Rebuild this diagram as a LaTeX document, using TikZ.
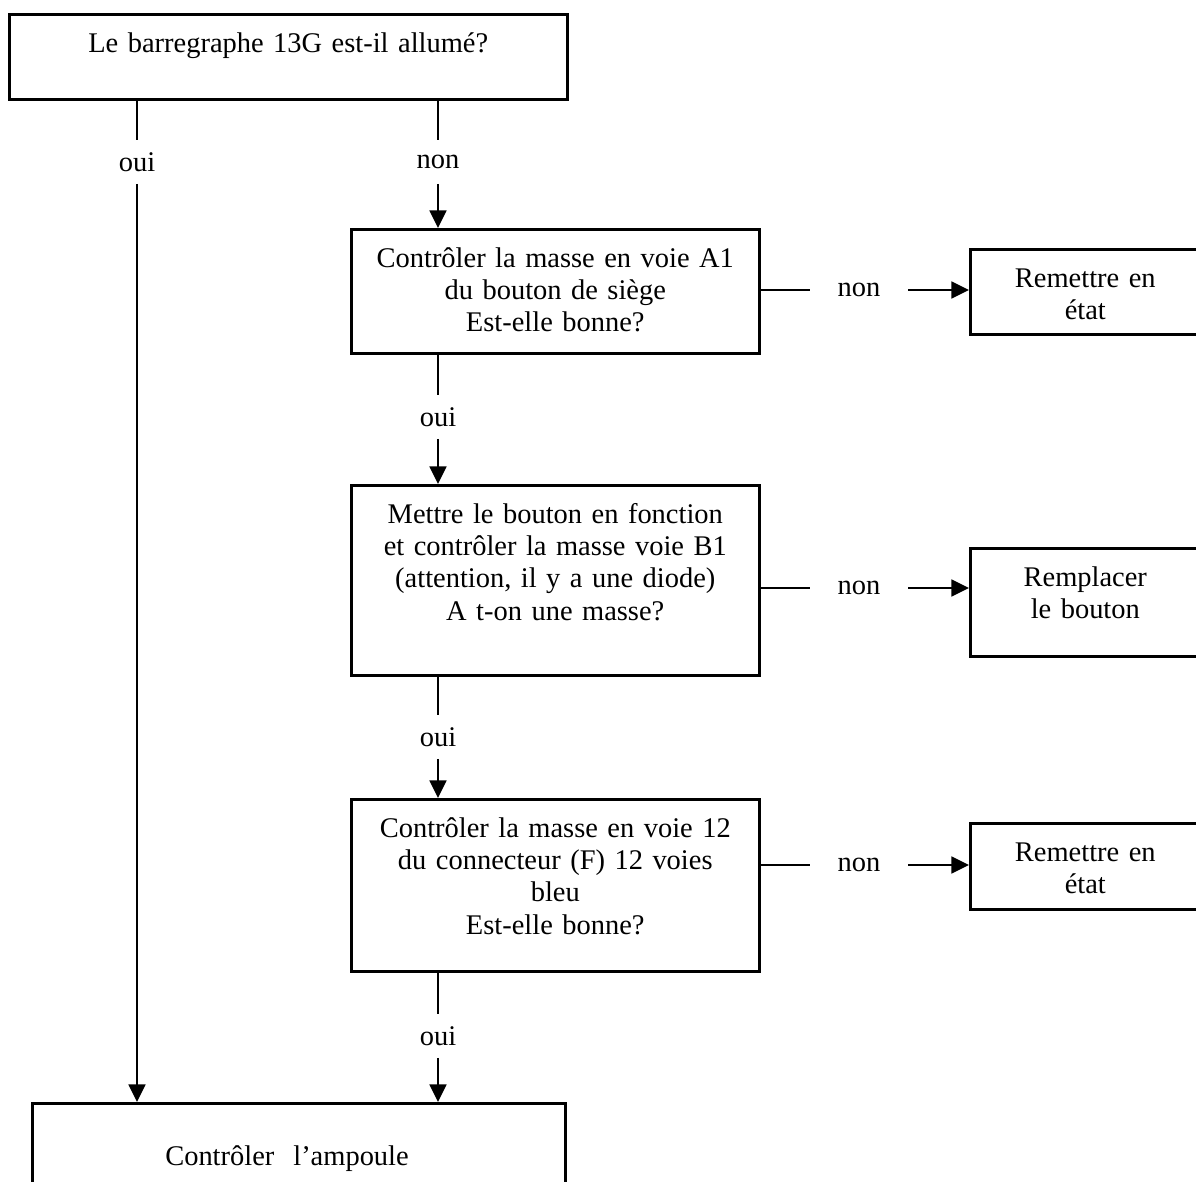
\documentclass[tikz,border=0pt]{standalone}
\usepackage{fontspec}
\setmainfont{Liberation Serif}
\usetikzlibrary{arrows.meta, positioning}

\begin{document}
\begin{tikzpicture}[x=0.02cm, y=-0.02cm,
  box/.style={draw, line width=1.5pt, anchor=north west, inner sep=0pt, align=center,
    text height=0.76cm, font=\fontsize{16.2}{18.4}\selectfont},
  lbl/.style={inner sep=0pt, minimum width=1.96cm, minimum height=0.86cm,
    font=\fontsize{16.2}{18.4}\selectfont},
  ln/.style={line width=1.5pt},
  arr/.style={-{Triangle[length=10pt, width=9.5pt]}, line width=1.5pt}
]
  \useasboundingbox (0,0) rectangle (1196,1181);

  % question boxes
  \node[box, text width=11.16cm, text depth=0.94cm] (barre) at (8,13) {Le barregraphe 13G est-il allumé?};
  \node[box, text width=8.16cm, text depth=1.72cm] (masseA) at (350,228)
    {Contrôler la masse en voie A1\\du bouton de siège\\Est-elle bonne?};
  \node[box, text width=8.16cm, text depth=3.04cm] (masseB) at (350,484)
    {Mettre le bouton en fonction\\et contrôler la masse voie B1\\(attention, il y a une diode)\\A t-on une masse?};
  \node[box, text width=8.16cm, text depth=2.68cm] (masse12) at (350,798)
    {Contrôler la masse en voie 12\\du connecteur (F) 12 voies\\bleu\\Est-elle bonne?};
  \node[box, align=left, text width=10.66cm, text height=1.24cm, text depth=1.16cm] (ampoule) at (31,1102)
    {\hspace*{2.66cm}Contrôler\ \ l’ampoule};

  % action boxes
  \node[box, text width=4.6cm, text depth=0.94cm] (remettreA) at (969,248) {Remettre en\\état};
  \node[box, text width=4.6cm, text depth=1.40cm] (remplacer) at (969,547) {Remplacer\\le bouton};
  \node[box, text width=4.6cm, text depth=0.96cm] (remettreF) at (969,822) {Remettre en\\état};

  % answers
  \node[lbl] (oui0) at (137,162) {oui};
  \node[lbl] (non0) at (438,162) {non};
  \node[lbl] (oui1) at (438,417) {oui};
  \node[lbl] (oui2) at (438,737) {oui};
  \node[lbl] (oui3) at (438,1036) {oui};
  \node[lbl] (non1) at (859,290) {non};
  \node[lbl] (non2) at (859,588) {non};
  \node[lbl] (non3) at (859,865) {non};

  \draw[ln] (barre.south -| oui0.north) -- (oui0.north);
  \draw[arr] (oui0.south) -- (ampoule.north -| oui0.south);
  \draw[ln] (barre.south -| non0.north) -- (non0.north);
  \draw[arr] (non0.south) -- (masseA.north -| non0.south);

  \draw[ln] (masseA.south -| oui1.north) -- (oui1.north);
  \draw[arr] (oui1.south) -- (masseB.north -| oui1.south);
  \draw[ln] (masseB.south -| oui2.north) -- (oui2.north);
  \draw[arr] (oui2.south) -- (masse12.north -| oui2.south);
  \draw[ln] (masse12.south -| oui3.north) -- (oui3.north);
  \draw[arr] (oui3.south) -- (ampoule.north -| oui3.south);

  \draw[ln] (masseA.east |- non1.west) -- (non1.west);
  \draw[arr] (non1.east) -- (remettreA.west |- non1.east);
  \draw[ln] (masseB.east |- non2.west) -- (non2.west);
  \draw[arr] (non2.east) -- (remplacer.west |- non2.east);
  \draw[ln] (masse12.east |- non3.west) -- (non3.west);
  \draw[arr] (non3.east) -- (remettreF.west |- non3.east);
\end{tikzpicture}
\end{document}
